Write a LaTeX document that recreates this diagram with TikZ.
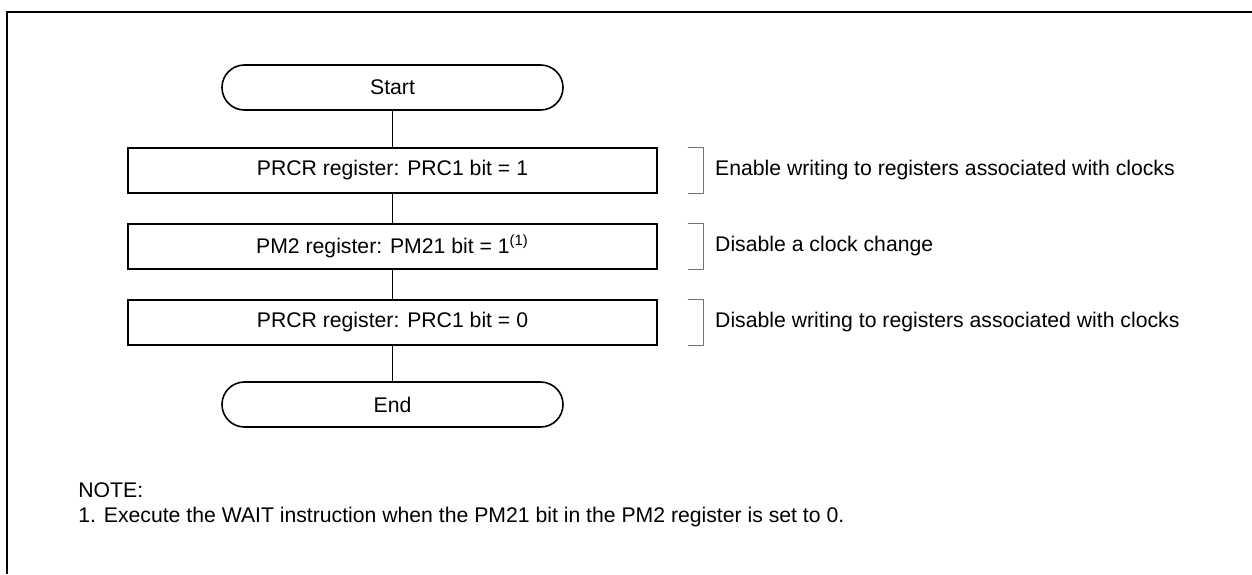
\documentclass[tikz,border=0pt]{standalone}
\usepackage{fontspec}
\setmainfont{Liberation Sans}
\usetikzlibrary{positioning}

\begin{document}
\begin{tikzpicture}[x=0.5pt, y=-0.5pt,
    font=\fontsize{10.6}{12.5}\selectfont,
    terminal/.style={rectangle, rounded corners=11.2pt, draw, line width=0.8pt,
      minimum width=170.5pt, minimum height=22.5pt, inner sep=0pt},
    etape/.style={rectangle, draw, line width=0.8pt,
      minimum width=264.5pt, minimum height=22.5pt, inner sep=0pt},
    lien/.style={-, draw, line width=0.8pt},
    crochet/.style={draw=black!55, line width=0.6pt},
    remarque/.style={inner sep=0pt},
    cadre/.style={draw, line width=1pt}
  ]
    \useasboundingbox (0,0) rectangle (1252,574);
    \draw[cadre] (7,574) -- (7,12) -- (1252,12);
    \node[terminal] (debut) at (392.5,87.5) {Start};
    \node[etape, below=18.2pt of debut] (prc1) {PRCR register: PRC1 bit = 1};
    \node[etape, below=14.7pt of prc1] (pm21) {PM2 register: PM21 bit = 1\textsuperscript{(1)}};
    \node[etape, below=14.7pt of pm21] (prc0) {PRCR register: PRC1 bit = 0};
    \node[terminal, below=17.7pt of prc0] (fin) {End};
    \draw[lien] (debut) -- (prc1);
    \draw[lien] (prc1) -- (pm21);
    \draw[lien] (pm21) -- (prc0);
    \draw[lien] (prc0) -- (fin);
    \draw[crochet] ([xshift=15pt]prc1.north east) -- ([xshift=23pt]prc1.north east)
      -- ([xshift=23pt]prc1.south east) -- ([xshift=15pt]prc1.south east);
    \draw[crochet] ([xshift=15pt]pm21.north east) -- ([xshift=23pt]pm21.north east)
      -- ([xshift=23pt]pm21.south east) -- ([xshift=15pt]pm21.south east);
    \draw[crochet] ([xshift=15pt]prc0.north east) -- ([xshift=23pt]prc0.north east)
      -- ([xshift=23pt]prc0.south east) -- ([xshift=15pt]prc0.south east);
    \node[remarque, right=28.5pt of prc1.east] (txt1) {Enable writing to registers associated with clocks};
    \node[remarque, right=28.5pt of pm21.east] (txt2) {Disable a clock change};
    \node[remarque, right=28.5pt of prc0.east] (txt3) {Disable writing to registers associated with clocks};
    \node[remarque, anchor=base west] (note) at (78,497) {NOTE:};
    \node[remarque, anchor=base west] (note1) at (78,522) {1. Execute the WAIT instruction when the PM21 bit in the PM2 register is set to 0.};
  \end{tikzpicture}
\end{document}
